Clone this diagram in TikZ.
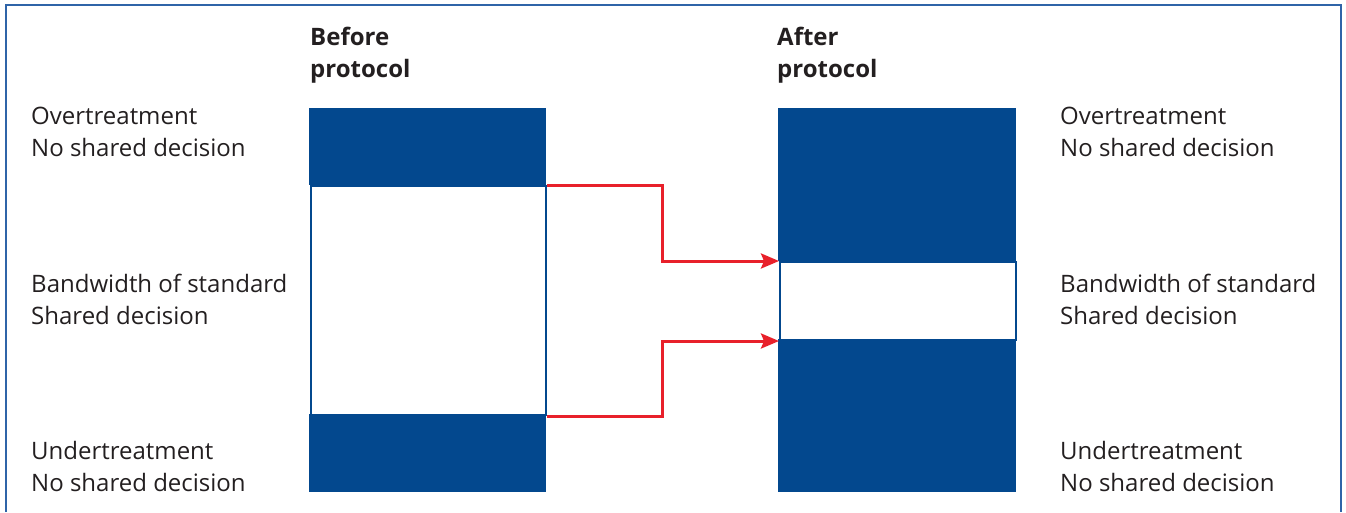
\documentclass[tikz,border=0pt]{standalone}
\usepackage{fontspec}
\setmainfont{Open Sans}
\usepackage{tikz}
\usetikzlibrary{arrows.meta}
\definecolor{barblue}{HTML}{03488E}
\definecolor{frameblue}{HTML}{2F64A8}
\definecolor{flowred}{HTML}{E8202A}
\definecolor{txtgray}{HTML}{231F20}

\begin{document}
\begin{tikzpicture}[x=1pt,y=-1pt,
    band/.style={fill=barblue,draw=none,inner sep=0pt,anchor=north west},
    gap/.style={fill=white,draw=barblue,line width=2pt,inner sep=0pt,anchor=north west},
    lbl/.style={anchor=west,align=left,inner sep=0pt,text=txtgray,font=\fontsize{24}{32}\selectfont},
    head/.style={lbl,font=\fontsize{24}{32}\selectfont\bfseries},
    flow/.style={draw=flowred,line width=3pt,-{Stealth[length=18pt,width=15pt,inset=3pt]}}]
\useasboundingbox (0,0) rectangle (1346,512);
\draw[frameblue,line width=1.5pt] (6,512) -- (6,5) -- (1341,5) -- (1341,512);
% before protocol
\node[band,minimum width=237pt,minimum height=77pt] (b-top) at (309,108) {};
\node[gap,minimum width=235pt,minimum height=229pt] (b-mid) at (310,185) {};
\node[band,minimum width=237pt,minimum height=78pt] (b-bot) at (309,414) {};
% after protocol
\node[band,minimum width=238pt,minimum height=153pt] (a-top) at (778,108) {};
\node[gap,minimum width=236pt,minimum height=78pt] (a-mid) at (779,261) {};
\node[band,minimum width=238pt,minimum height=153pt] (a-bot) at (778,339) {};
% headings
\node[head] (h-before) at (310,55) {Before\\protocol};
\node[head] (h-after) at (777,55) {After\\protocol};
% labels
\node[lbl] (l-over) at (31,132) {Overtreatment\\No shared decision};
\node[lbl] (l-band) at (31,299) {Bandwidth of standard\\Shared decision};
\node[lbl] (l-under) at (31,466) {Undertreatment\\No shared decision};
\node[lbl] (r-over) at (1060,132) {Overtreatment\\No shared decision};
\node[lbl] (r-band) at (1060,299) {Bandwidth of standard\\Shared decision};
\node[lbl] (r-under) at (1060,466) {Undertreatment\\No shared decision};
% arrows
\draw[flow] (b-mid.north east) -- ++(115,0) |- (a-mid.north west);
\draw[flow] (b-mid.south east) -- ++(115,0) |- (a-mid.south west);
\end{tikzpicture}
\end{document}
